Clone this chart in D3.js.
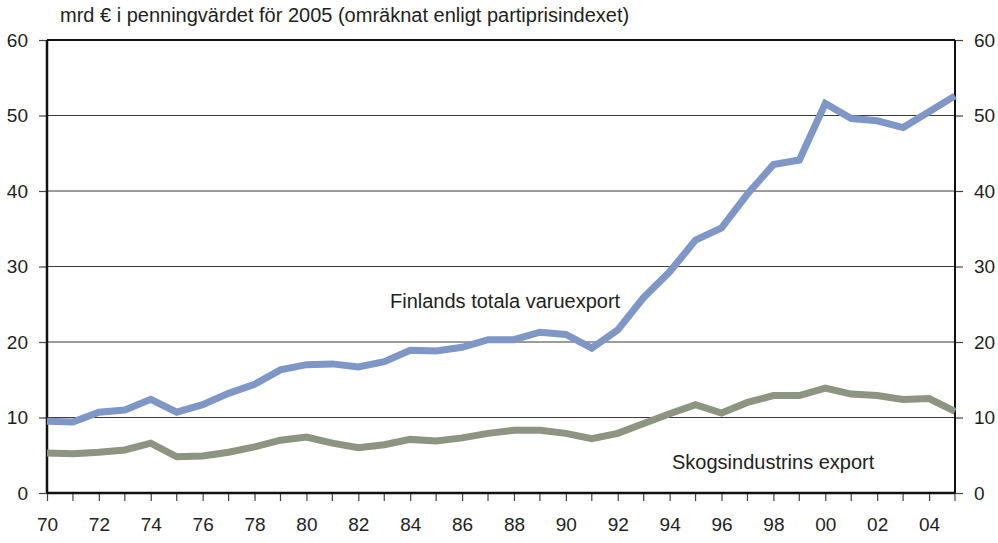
<!DOCTYPE html>
<html>
<head>
<meta charset="utf-8">
<script src="https://cdn.jsdelivr.net/npm/d3@7"></script>
<style>
  body { margin: 0; background: #fff; }
  text { font-family: "Liberation Sans", Arial, sans-serif; fill: #231f20; }
</style>
</head>
<body>
<div id="chart"></div>
<script>
const years = d3.range(1970, 2006);

// Finlands totala varuexport
const totalExport = [9.5, 9.4, 10.7, 11.0, 12.4, 10.7, 11.7, 13.2, 14.4, 16.3,
  17.0, 17.1, 16.7, 17.4, 18.9, 18.8, 19.3, 20.3, 20.3, 21.3,
  21.0, 19.2, 21.6, 25.9, 29.3, 33.5, 35.1, 39.6, 43.5, 44.1,
  51.6, 49.6, 49.3, 48.4, 50.5, 52.6];

// Skogsindustrins export
const forestExport = [5.3, 5.2, 5.4, 5.7, 6.6, 4.8, 4.9, 5.4, 6.1, 7.0,
  7.4, 6.6, 6.0, 6.4, 7.1, 6.9, 7.3, 7.9, 8.3, 8.3,
  7.9, 7.2, 7.9, 9.2, 10.5, 11.7, 10.6, 12.0, 12.9, 12.9,
  13.9, 13.1, 12.9, 12.4, 12.5, 10.8];

const yTicks = [0, 10, 20, 30, 40, 50, 60];
const xTickYears = d3.range(1970, 2006, 2);
const title = 'mrd € i penningvärdet för 2005 (omräknat enligt partiprisindexet)';

const width = 998, height = 543;
const margin = { top: 40, right: 43, bottom: 50, left: 47 };
const innerWidth = width - margin.left - margin.right;
const innerHeight = height - margin.top - margin.bottom;

const svg = d3.select('#chart').append('svg')
  .attr('width', width)
  .attr('height', height)
  .style('display', 'block');

const xScale = d3.scaleLinear().domain([1970, 2005]).range([0, innerWidth]);
const yScale = d3.scaleLinear().domain([0, 60]).range([innerHeight, 0]);

const g = svg.append('g')
  .attr('transform', `translate(${margin.left},${margin.top})`);

// grid
g.selectAll('.grid').data(yTicks.filter(d => d > 0 && d < 60))
  .enter().append('line')
  .attr('class', 'grid')
  .attr('x1', 0).attr('x2', innerWidth)
  .attr('y1', d => yScale(d)).attr('y2', d => yScale(d))
  .attr('stroke', '#3a3a3a')
  .attr('stroke-width', 1.1);

// top border
g.append('line')
  .attr('x1', 0).attr('x2', innerWidth)
  .attr('y1', 0).attr('y2', 0)
  .attr('stroke', '#111').attr('stroke-width', 2);

const yAxisLeft = d3.axisLeft(yScale).tickValues(yTicks).tickSize(8).tickPadding(11);
const yAxisRight = d3.axisRight(yScale).tickValues(yTicks).tickSize(8).tickPadding(11);
const xAxis = d3.axisBottom(xScale)
  .tickValues(xTickYears)
  .tickSize(8)
  .tickPadding(17)
  .tickFormat(d => String(d).slice(2));

function styleAxis(sel, anchor) {
  sel.select('.domain').remove();
  sel.attr('font-size', 19).attr('font-family', null);
  sel.selectAll('.tick line').attr('stroke', '#444').attr('stroke-width', 1.2);
  sel.selectAll('.tick text')
    .attr('font-size', 19)
    .attr('text-anchor', anchor)
    .attr('fill', '#231f20');
}

g.append('g').call(yAxisLeft).call(styleAxis, 'end');
g.append('g').attr('transform', `translate(${innerWidth},0)`).call(yAxisRight).call(styleAxis, 'start');
g.append('g').attr('transform', `translate(0,${innerHeight})`).call(xAxis).call(styleAxis, 'middle');

// tick marks for odd years (no labels)
g.selectAll('.minor-tick').data(years.filter(y => !xTickYears.includes(y)))
  .enter().append('line')
  .attr('class', 'minor-tick')
  .attr('x1', d => xScale(d)).attr('x2', d => xScale(d))
  .attr('y1', innerHeight).attr('y2', innerHeight + 8)
  .attr('stroke', '#444').attr('stroke-width', 1.2);

// frame lines
g.append('line').attr('x1', 0).attr('x2', 0).attr('y1', 0).attr('y2', innerHeight)
  .attr('stroke', '#111').attr('stroke-width', 2.5);
g.append('line').attr('x1', innerWidth).attr('x2', innerWidth).attr('y1', 0).attr('y2', innerHeight)
  .attr('stroke', '#111').attr('stroke-width', 2);
g.append('line').attr('x1', 0).attr('x2', innerWidth).attr('y1', innerHeight).attr('y2', innerHeight)
  .attr('stroke', '#111').attr('stroke-width', 2.5);

const line = d3.line()
  .x((d, i) => xScale(years[i]))
  .y(d => yScale(d));

g.append('path')
  .attr('d', line(forestExport))
  .attr('fill', 'none')
  .attr('stroke', '#8b9580')
  .attr('stroke-width', 7)
  .attr('stroke-linejoin', 'miter');

g.append('path')
  .attr('d', line(totalExport))
  .attr('fill', 'none')
  .attr('stroke', '#7f97c6')
  .attr('stroke-width', 7)
  .attr('stroke-linejoin', 'miter');

// labels
svg.append('text')
  .attr('x', 60).attr('y', 22)
  .attr('font-size', 20)
  .text(title);

svg.append('text')
  .attr('x', 390).attr('y', 308)
  .attr('font-size', 20)
  .text('Finlands totala varuexport');

svg.append('text')
  .attr('x', 672).attr('y', 469)
  .attr('font-size', 20)
  .text('Skogsindustrins export');
</script>
</body>
</html>
